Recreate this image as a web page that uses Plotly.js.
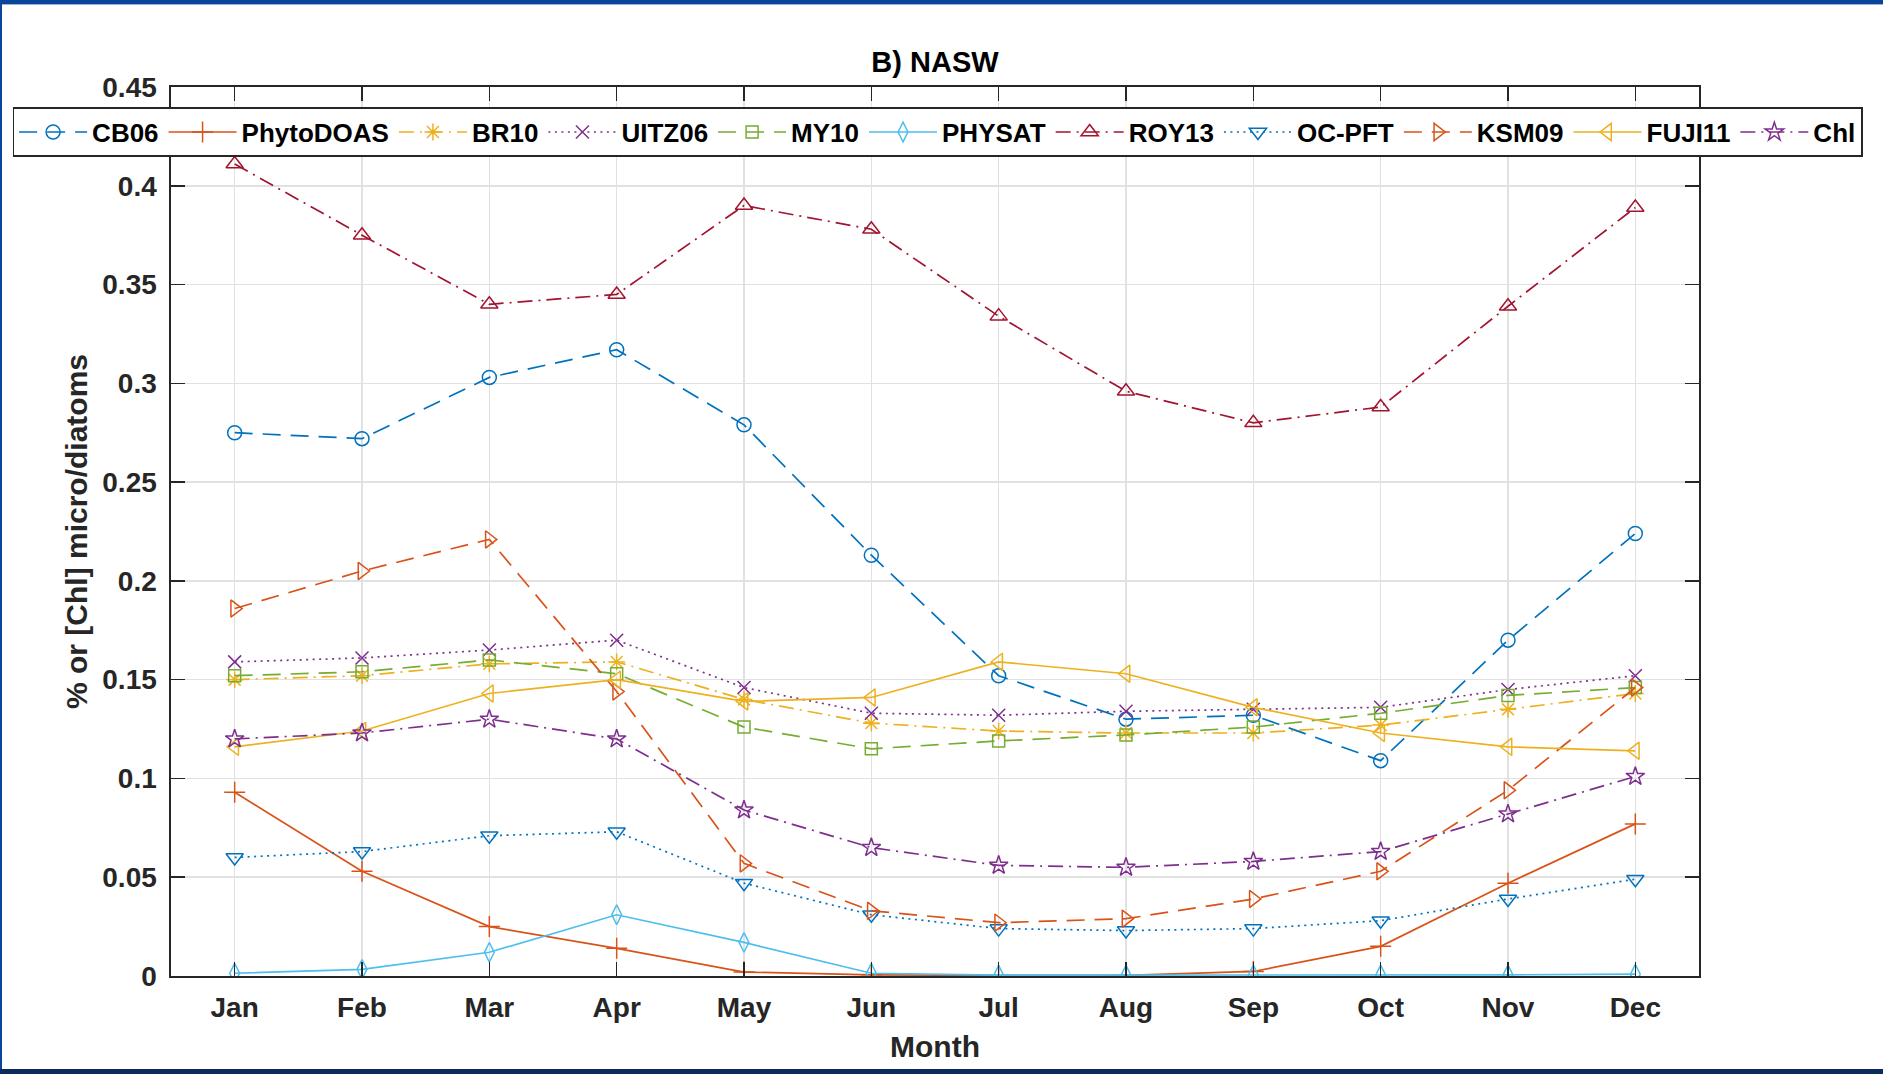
<!DOCTYPE html>
<html>
<head>
<meta charset="utf-8">
<script src="https://cdn.plot.ly/plotly-3.0.1.min.js"></script>
<style>
  html, body { margin: 0; padding: 0; background: #ffffff; }
  #wrap { position: relative; width: 1883px; height: 1074px; overflow: hidden; }
  #chart { position: absolute; left: 0; top: 0; width: 1883px; height: 1074px; }
  .band { position: absolute; pointer-events: none; }
</style>
</head>
<body>
<div id="wrap">
  <div id="chart"></div>
  <div class="band" style="left:0;top:0;width:1883px;height:4px;background:#0a4599;"></div>
  <div class="band" style="left:0;top:4px;width:1883px;height:1px;background:#9bb3d6;"></div>
  <div class="band" style="left:0;top:0;width:2px;height:1074px;background:#0a4599;"></div>
  <div class="band" style="left:0;top:1069px;width:1883px;height:5px;background:#0b2a5e;"></div>
</div>
<script>
// ---- data ----
const months = [1,2,3,4,5,6,7,8,9,10,11,12];
const monthLabels = ['Jan','Feb','Mar','Apr','May','Jun','Jul','Aug','Sep','Oct','Nov','Dec'];
const yTickVals = [0,0.05,0.1,0.15,0.2,0.25,0.3,0.35,0.4,0.45];
const yTickText = ['0','0.05','0.1','0.15','0.2','0.25','0.3','0.35','0.4','0.45'];

const CB06      = [0.275,0.272,0.303,0.317,0.279,0.213,0.152,0.130,0.132,0.109,0.170,0.224];
const PhytoDOAS = [0.093,0.053,0.025,0.014,0.002,0.0006,0.0003,0.0003,0.0023,0.015,0.047,0.077];
const BR10      = [0.150,0.152,0.158,0.159,0.140,0.128,0.124,0.123,0.123,0.127,0.135,0.143];
const UITZ06    = [0.159,0.161,0.165,0.170,0.146,0.133,0.132,0.134,0.135,0.136,0.145,0.152];
const MY10      = [0.152,0.154,0.160,0.153,0.126,0.115,0.119,0.122,0.126,0.133,0.142,0.146];
const PHYSAT    = [0.0014,0.0034,0.012,0.031,0.017,0.0014,0.0004,0.0004,0.0005,0.0005,0.0006,0.0009];
const ROY13     = [0.411,0.375,0.340,0.345,0.390,0.378,0.334,0.296,0.280,0.288,0.339,0.389];
const OCPFT     = [0.060,0.063,0.071,0.073,0.047,0.031,0.024,0.023,0.024,0.028,0.039,0.049];
const KSM09     = [0.186,0.205,0.221,0.144,0.057,0.033,0.027,0.029,0.039,0.053,0.094,0.146];
const FUJI11    = [0.116,0.124,0.143,0.150,0.139,0.141,0.159,0.153,0.136,0.123,0.116,0.114];
const Chl       = [0.120,0.123,0.130,0.120,0.084,0.065,0.056,0.055,0.058,0.063,0.082,0.101];

const seriesNames = ['CB06','PhytoDOAS','BR10','UITZ06','MY10','PHYSAT','ROY13','OC-PFT','KSM09','FUJI11','Chl'];
const seriesData  = [CB06,PhytoDOAS,BR10,UITZ06,MY10,PHYSAT,ROY13,OCPFT,KSM09,FUJI11,Chl];

// ---- styles ----
const C = {blue:'#0072BD', orange:'#D95319', yellow:'#EDB120', purple:'#7E2F8E',
           green:'#77AC30', cyan:'#4DBEEE', red:'#A2142F'};
const DASH = '18px,10px', DOT = '2px,4.5px', DASHDOT = '15px,6px,2px,6px', SOLID = 'solid';
const styles = [
  {c:C.blue,   d:DASH,    s:'circle-open',         z:14},
  {c:C.orange, d:SOLID,   s:'cross-thin-open',     z:15},
  {c:C.yellow, d:DASHDOT, s:'asterisk-open',       z:14},
  {c:C.purple, d:DOT,     s:'x-thin-open',         z:13},
  {c:C.green,  d:DASH,    s:'square-open',         z:12},
  {c:C.cyan,   d:SOLID,   s:'diamond-tall-open',   z:14},
  {c:C.red,    d:DASHDOT, s:'triangle-up-open',    z:15},
  {c:C.blue,   d:DOT,     s:'triangle-down-open',  z:15},
  {c:C.orange, d:DASH,    s:'triangle-right-open', z:15},
  {c:C.yellow, d:SOLID,   s:'triangle-left-open',  z:15},
  {c:C.purple, d:DASHDOT, s:'star-open',           z:14}
];

const traces = seriesNames.map((name, i) => ({
  type: 'scatter',
  mode: 'lines+markers',
  name: name,
  x: months,
  y: seriesData[i],
  line: {color: styles[i].c, width: 1.7, dash: styles[i].d},
  marker: {symbol: styles[i].s, size: styles[i].z, color: styles[i].c,
           line: {color: styles[i].c, width: 1.5}}
}));

const FONT = 'Liberation Sans, Arial, Helvetica, sans-serif';
const axisCommon = {
  showgrid: true, gridcolor: '#e1e1e1', gridwidth: 1.5,
  showline: true, linecolor: '#262626', linewidth: 1.6, mirror: 'ticks',
  ticks: 'inside', ticklen: 14, tickwidth: 1.6, tickcolor: '#262626',
  zeroline: false,
  tickfont: {family: FONT, size: 28, color: '#262626', weight: 'bold'}
};

// figure margins are small so that the one-row legend may span the figure;
// the plot area is placed with the axis domain
const ML = 10, MR = 10, FW = 1883;
const GW = FW - ML - MR;

const layout = {
  width: 1883, height: 1074,
  paper_bgcolor: '#ffffff', plot_bgcolor: '#ffffff',
  margin: {l: ML, r: MR, t: 87, b: 98, pad: 0},
  showlegend: true,
  title: {text: 'B) NASW', x: 935/1883, xanchor: 'center', y: 0.942, yanchor: 'middle',
          xref: 'container', yref: 'container',
          font: {family: FONT, size: 29, color: '#000000', weight: 'bold'}},
  xaxis: Object.assign({}, axisCommon, {
    domain: [(171 - ML)/GW, (1699 - ML)/GW],
    range: [0.5, 12.5], tickmode: 'array', tickvals: months, ticktext: monthLabels,
    ticklabelstandoff: 6,
    title: {text: 'Month', standoff: 14,
            font: {family: FONT, size: 30, color: '#262626', weight: 'bold'}}
  }),
  yaxis: Object.assign({}, axisCommon, {
    range: [0, 0.45], tickmode: 'array', tickvals: yTickVals, ticktext: yTickText,
    ticklabelstandoff: 7,
    title: {text: '% or [Chl] micro/diatoms', standoff: 6,
            font: {family: FONT, size: 30, color: '#262626', weight: 'bold'}}
  }),
  legend: {
    orientation: 'h', xref: 'paper', yref: 'paper',
    x: (12.5 - ML)/GW, xanchor: 'left', y: (976 - 107)/889, yanchor: 'top',
    bgcolor: '#ffffff', bordercolor: '#262626', borderwidth: 1.6,
    itemwidth: 68, traceorder: 'normal', valign: 'middle',
    font: {family: FONT, size: 26, color: '#000000', weight: 'bold'}
  }
};

Plotly.newPlot('chart', traces, layout, {displayModeBar: false, staticPlot: true});
</script>
</body>
</html>
